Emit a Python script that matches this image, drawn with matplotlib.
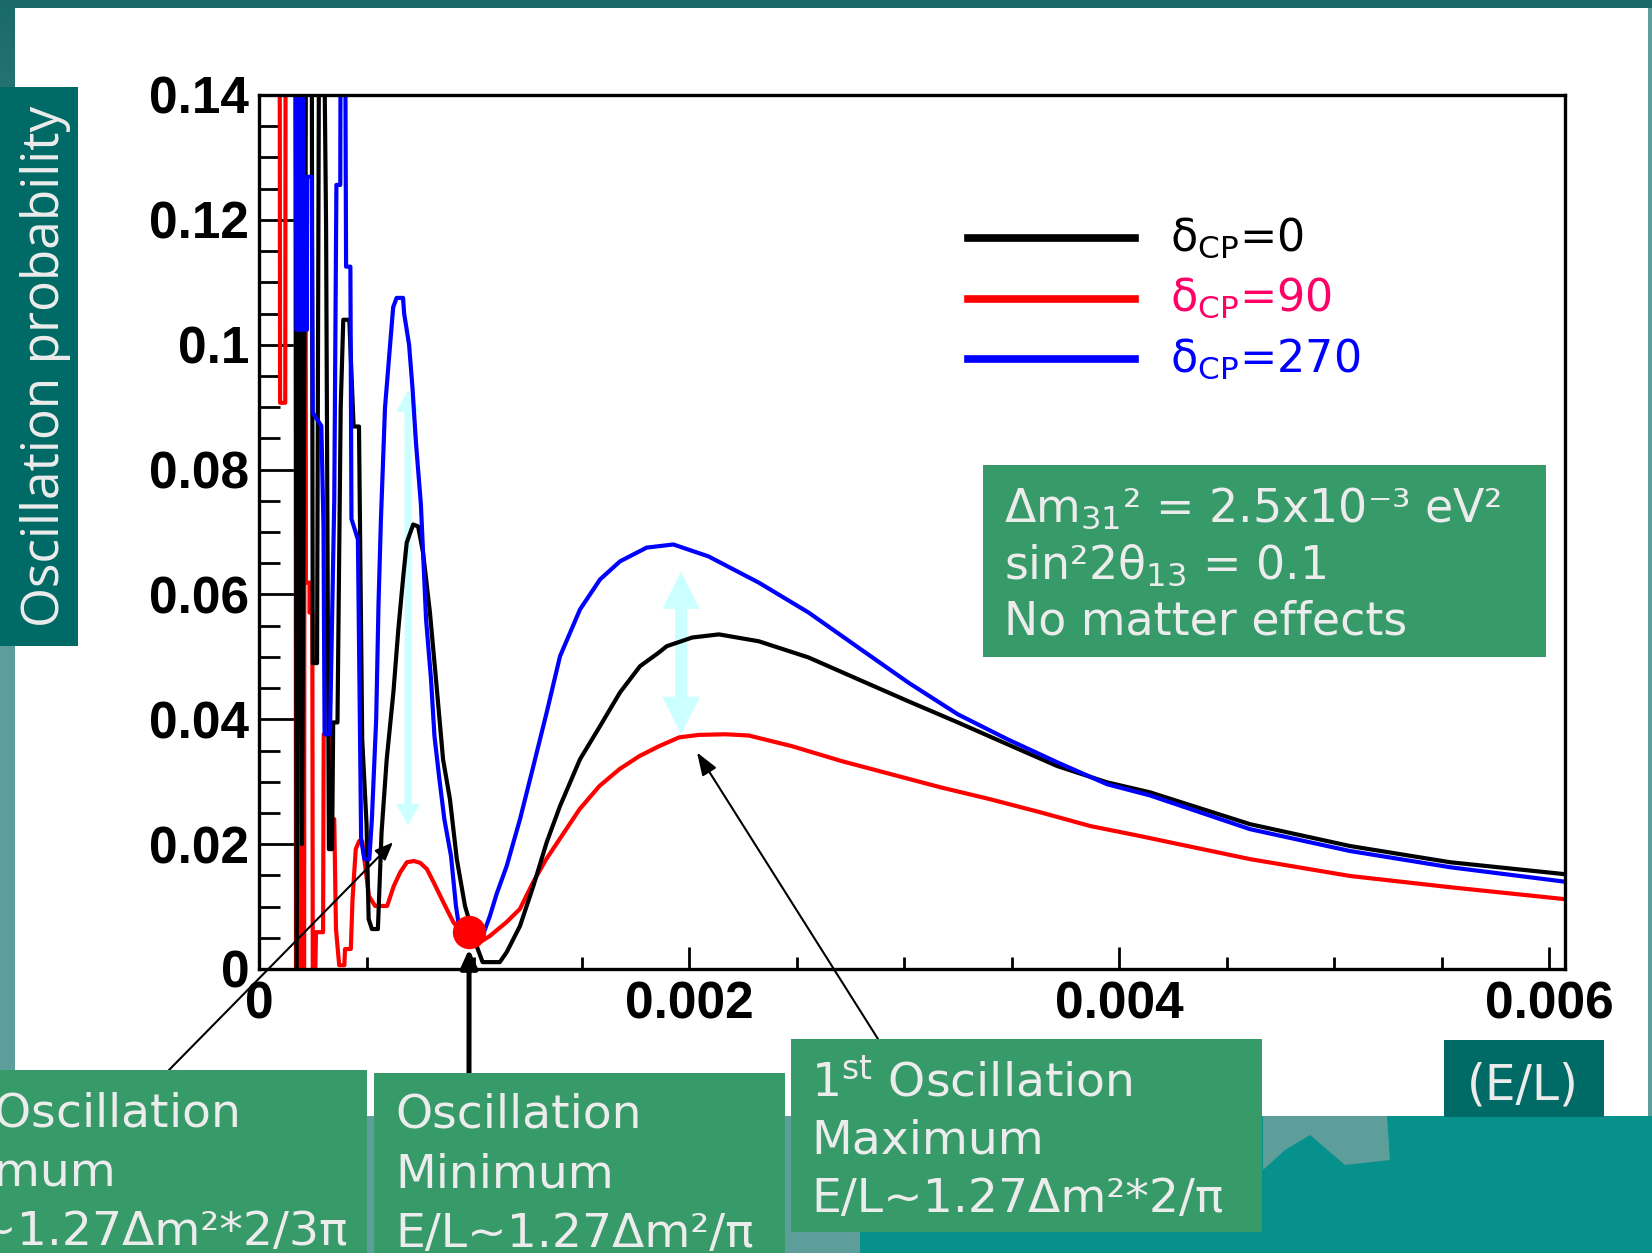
import matplotlib
matplotlib.use("Agg")
import matplotlib.pyplot as plt
from matplotlib.patches import Rectangle, Polygon, FancyArrowPatch, ArrowStyle
from matplotlib.lines import Line2D
from matplotlib.colors import LinearSegmentedColormap
from matplotlib.ticker import MultipleLocator
import numpy as np

plt.rcParams['mathtext.fontset'] = 'dejavusans'

# ---- values: x = E/L, y = oscillation probability ----
# (points at 0.16 are off the top of the frame, the plot clips them)
el_d0 = [0.000170, 0.000175, 0.000190, 0.000200, 0.000220, 0.000245, 0.000250, 0.000270,
         0.000280, 0.000300, 0.000312, 0.000325, 0.000340, 0.000345, 0.000365, 0.000380,
         0.000392, 0.000420, 0.000440, 0.000465, 0.000480, 0.000500, 0.000510, 0.000525,
         0.000553, 0.000570, 0.000594, 0.000625, 0.000648, 0.000671, 0.000687, 0.000717,
         0.000740, 0.000763, 0.000795, 0.000826, 0.000856, 0.000888, 0.000920, 0.000958,
         0.001012, 0.001040, 0.001120, 0.001152, 0.001214, 0.001276, 0.001338, 0.001400,
         0.001493, 0.001586, 0.001679, 0.001772, 0.001860, 0.001896, 0.002015, 0.002139,
         0.002324, 0.002556, 0.002787, 0.003019, 0.003250, 0.003481, 0.003713, 0.003944,
         0.004144, 0.004609, 0.005074, 0.005540, 0.006070]
p_d0 = [0.160, 0.000, 0.160, 0.020, 0.160, 0.160, 0.049, 0.049,
        0.160, 0.160, 0.119, 0.0192, 0.0192, 0.0395, 0.0395, 0.0900,
        0.1040, 0.1040, 0.0869, 0.0869, 0.0368, 0.0233, 0.0080, 0.0064,
        0.0064, 0.0219, 0.0336, 0.0443, 0.0544, 0.0629, 0.0683, 0.0712,
        0.0709, 0.0667, 0.0571, 0.0453, 0.0336, 0.0272, 0.0176, 0.0101,
        0.0037, 0.0011, 0.0011, 0.0027, 0.0069, 0.0133, 0.0203, 0.0261,
        0.0336, 0.0389, 0.0443, 0.0485, 0.0507, 0.0517, 0.0531, 0.0536,
        0.0525, 0.0499, 0.0464, 0.0429, 0.0395, 0.0360, 0.0325, 0.0299,
        0.0283, 0.0232, 0.0197, 0.0171, 0.0152]

el_d90 = [0.000096, 0.000098, 0.000122, 0.000124, 0.000170, 0.000172, 0.000178, 0.000180,
          0.000186, 0.000188, 0.000194, 0.000196, 0.000202, 0.000204, 0.000210, 0.000212,
          0.000216, 0.000218, 0.000235, 0.000235, 0.000248,
          0.000250, 0.000262, 0.000265, 0.000298, 0.000301, 0.000327, 0.000333, 0.000350,
          0.000358, 0.000373, 0.000397, 0.000400, 0.000427, 0.000435, 0.000450, 0.000466,
          0.000480, 0.000511, 0.000540, 0.000596, 0.000627, 0.000657, 0.000688, 0.000720,
          0.000750, 0.000781, 0.000812, 0.000843, 0.000873, 0.000904, 0.000940, 0.000990,
          0.001028, 0.001074, 0.001151, 0.001213, 0.001275, 0.001336, 0.001398, 0.001491,
          0.001583, 0.001676, 0.001769, 0.001861, 0.001954, 0.002046, 0.002170, 0.002278,
          0.002478, 0.002710, 0.002940, 0.003170, 0.003400, 0.003634, 0.003866, 0.004097,
          0.004609, 0.005074, 0.005540, 0.006070]
p_d90 = [0.160, 0.0907, 0.0907, 0.160, 0.160, 0.000, 0.000, 0.160,
         0.160, 0.000, 0.000, 0.160, 0.160, 0.000, 0.000, 0.160,
         0.160, 0.0619, 0.0619, 0.0571, 0.0571,
         0.000, 0.000, 0.0059, 0.0059, 0.0376, 0.0376, 0.0240, 0.0240,
         0.0064, 0.0006, 0.0006, 0.0032, 0.0032, 0.0112, 0.0192, 0.0205,
         0.0205, 0.0117, 0.0101, 0.0101, 0.0133, 0.0155, 0.0171, 0.0173,
         0.0170, 0.0160, 0.0139, 0.0117, 0.0096, 0.0075, 0.0058, 0.0048,
         0.0043, 0.0053, 0.0075, 0.0096, 0.0139, 0.0176, 0.0208, 0.0256,
         0.0293, 0.0320, 0.0341, 0.0357, 0.0371, 0.0375, 0.0376, 0.0374,
         0.0357, 0.0333, 0.0312, 0.0291, 0.0272, 0.0251, 0.0229, 0.0213,
         0.0176, 0.0149, 0.0131, 0.0112]

el_d270 = [0.000170, 0.000174, 0.000180, 0.000182, 0.000188, 0.000190, 0.000196, 0.000198,
           0.000204, 0.000206, 0.000223, 0.000223,
           0.000245, 0.000250, 0.000290, 0.000300, 0.000305, 0.000330, 0.000350, 0.000360,
           0.000378, 0.000380, 0.000400, 0.000405, 0.000425, 0.000430, 0.000460, 0.000475,
           0.000490, 0.000513, 0.000525, 0.000545, 0.000556, 0.000567, 0.000571, 0.000586,
           0.000609, 0.000624, 0.000640, 0.000670, 0.000675, 0.000698, 0.000714, 0.000730,
           0.000753, 0.000777, 0.000800, 0.000816, 0.000839, 0.000862, 0.000893, 0.000916,
           0.000932, 0.000975, 0.001020, 0.001040, 0.001074, 0.001105, 0.001152, 0.001214,
           0.001276, 0.001338, 0.001400, 0.001493, 0.001586, 0.001679, 0.001803, 0.001927,
           0.002090, 0.002324, 0.002556, 0.002787, 0.003019, 0.003250, 0.003481, 0.003713,
           0.003944, 0.004144, 0.004609, 0.005074, 0.005540, 0.006070]
p_d270 = [0.160, 0.1024, 0.1024, 0.160, 0.160, 0.1024, 0.1024, 0.160,
          0.160, 0.1024, 0.1024, 0.1269,
          0.1269, 0.0891, 0.0870, 0.0707, 0.0376, 0.0376, 0.0750, 0.1256,
          0.1256, 0.160, 0.160, 0.1125, 0.1125, 0.0721, 0.0688, 0.0208,
          0.0176, 0.0176, 0.0240, 0.0400, 0.0587, 0.0720, 0.0757, 0.0899,
          0.0997, 0.1060, 0.1075, 0.1075, 0.1050, 0.1000, 0.0930, 0.0843,
          0.0744, 0.0560, 0.0464, 0.0373, 0.0304, 0.0240, 0.0181, 0.0101,
          0.0064, 0.0040, 0.0045, 0.0053, 0.0085, 0.0120, 0.0165, 0.0240,
          0.0325, 0.0411, 0.0501, 0.0576, 0.0624, 0.0653, 0.0675, 0.0680,
          0.0661, 0.0619, 0.0571, 0.0515, 0.0459, 0.0408, 0.0368, 0.0331,
          0.0296, 0.0278, 0.0224, 0.0189, 0.0163, 0.0140]

# oscillation minimum marker and the two cyan "CP effect" double arrows
min_el, min_p = 0.000977, 0.0059
cp_arrows = [(0.000693, 0.0229, 0.0928), (0.001963, 0.0376, 0.0637)]

xticks = [0, 0.002, 0.004, 0.006]
xtick_labels = ['0', '0.002', '0.004', '0.006']
yticks = [0, 0.02, 0.04, 0.06, 0.08, 0.10, 0.12, 0.14]
ytick_labels = ['0', '0.02', '0.04', '0.06', '0.08', '0.1', '0.12', '0.14']

legend_labels = ['δ$_{\\mathrm{CP}}$=0', 'δ$_{\\mathrm{CP}}$=90', 'δ$_{\\mathrm{CP}}$=270']
legend_text_colors = ['black', '#ff0066', '#0000ff']
line_colors = ['black', '#ff0000', '#0000ff']

W, H = 1652, 1253
GREEN = '#379a69'
TEAL = '#006a66'
WHITE_TXT = '#ececec'

fig = plt.figure(figsize=(W / 100, H / 100), dpi=100)
fig.patch.set_facecolor('white')


def fx(x):
    return x / W


def fy(y):
    return 1 - y / H


def rect(x0, y0, x1, y1, color, z=2):
    fig.add_artist(Rectangle((fx(x0), fy(y1)), (x1 - x0) / W, (y1 - y0) / H,
                             transform=fig.transFigure, facecolor=color, lw=0, zorder=z))


# slide background
rect(0, 0, W, 8, '#1b6a69', 1)
rect(1648, 8, W, 1116, '#5d9e9b', 1)
rect(0, 1116, 860, H, '#5d9e9b', 1)
rect(860, 1116, W, H, '#06918c', 1)
fig.add_artist(Polygon([(fx(1263), fy(1116)), (fx(1387), fy(1116)), (fx(1390), fy(1160)),
                        (fx(1345), fy(1165)), (fx(1310), fy(1135)), (fx(1285), fy(1150)),
                        (fx(1263), fy(1170))], closed=True, transform=fig.transFigure,
                       facecolor='#5d9e9b', lw=0, zorder=1))
strip = fig.add_axes([0, fy(1116), 15 / W, (1116 - 8) / H])
strip.imshow(np.linspace(0, 1, 200).reshape(-1, 1), aspect='auto',
             cmap=LinearSegmentedColormap.from_list('s', ['#1c6b6b', '#5d9e9c', '#5d9e9c']))
strip.axis('off')

# main plot
ax = fig.add_axes([fx(259), fy(969), (1565 - 259) / W, (969 - 95) / H])
ax.set_xlim(0, 0.006074)
ax.set_ylim(0, 0.14)

ax.plot(el_d90, p_d90, color=line_colors[1], lw=3.0, zorder=2)
ax.plot(el_d0, p_d0, color=line_colors[0], lw=3.0, zorder=2.1)
ax.plot(el_d270, p_d270, color=line_colors[2], lw=3.0, zorder=2.2)

for x, y0, y1 in cp_arrows:
    ym = (y0 + y1) / 2
    big = (y1 - y0) > 0.05
    hl, hw, tw = (1.6, 1.7, 0.5) if big else (2.7, 2.7, 0.86)
    for tip in (y0, y1):
        ax.add_patch(FancyArrowPatch((x, ym), (x, tip),
                                     arrowstyle=ArrowStyle.Simple(head_length=hl, head_width=hw, tail_width=tw),
                                     mutation_scale=10, fc='#ccffff', ec='none', lw=0, zorder=1.5,
                                     shrinkA=0, shrinkB=0))

ax.plot([min_el], [min_p], 'o', ms=23, color='red', mec='red', zorder=6, clip_on=False)

for sp in ax.spines.values():
    sp.set_linewidth(2.4)
ax.set_xticks(xticks)
ax.set_xticklabels(xtick_labels)
ax.set_yticks(yticks)
ax.set_yticklabels(ytick_labels)
ax.xaxis.set_minor_locator(MultipleLocator(0.0005))
ax.yaxis.set_minor_locator(MultipleLocator(0.005))
ax.tick_params(which='both', direction='in', top=False, right=False, width=2)
ax.tick_params(axis='y', which='major', length=26, pad=7)
ax.tick_params(axis='y', which='minor', length=15)
ax.tick_params(axis='x', which='major', length=16, pad=8)
ax.tick_params(axis='x', which='minor', length=9)
for lab in ax.get_xticklabels() + ax.get_yticklabels():
    lab.set_fontfamily('Liberation Sans')
    lab.set_fontweight('bold')
    lab.set_fontsize(37)

# black pointer arrows from the boxes
ax.annotate('', xy=(0.000623, 0.0203), xytext=(169, H - 1070), textcoords='figure pixels',
            arrowprops=dict(arrowstyle='-|>,head_length=1.1,head_width=0.45', color='black',
                            lw=1.5, shrinkA=0, shrinkB=0), annotation_clip=False)
ax.annotate('', xy=(min_el, 0.0032), xytext=(469, H - 1073), textcoords='figure pixels',
            arrowprops=dict(arrowstyle='-|>,head_length=1.1,head_width=0.5', color='black',
                            lw=3.6, shrinkA=0, shrinkB=0), annotation_clip=False)
ax.annotate('', xy=(0.002037, 0.0347), xytext=(878, H - 1039), textcoords='figure pixels',
            arrowprops=dict(arrowstyle='-|>,head_length=1.4,head_width=0.5', color='black',
                            lw=1.5, shrinkA=0, shrinkB=0), annotation_clip=False)

# legend
for i, (lab, tc, lc) in enumerate(zip(legend_labels, legend_text_colors, line_colors)):
    ly = 238 + i * 60.5
    fig.add_artist(Line2D([fx(968), fx(1135)], [fy(ly), fy(ly)], color=lc, lw=5.5,
                          transform=fig.transFigure, zorder=5))
    fig.text(fx(1170), fy(ly + 12.5), lab, fontsize=32, color=tc, family='DejaVu Sans',
             va='baseline', zorder=5)

# parameter box
rect(983, 465, 1546, 657, GREEN, 5)
param_lines = ['Δm$_{31}$² = 2.5x10⁻³ eV²', 'sin²2θ$_{13}$ = 0.1', 'No matter effects']
for txt, by in zip(param_lines, [522, 579, 635]):
    fig.text(fx(1004), fy(by), txt, fontsize=33, color=WHITE_TXT, family='DejaVu Sans',
             va='baseline', zorder=6)

# y axis title box
rect(0, 87, 78, 646, TEAL, 2)
fig.text(fx(59), fy(366), 'Oscillation probability', rotation=90, rotation_mode='anchor',
         ha='center', va='baseline', fontsize=37, family='Open Sans', color=WHITE_TXT, zorder=3)

# x axis title box
rect(1444, 1040, 1604, 1117, TEAL, 2)
fig.text(fx(1523), fy(1100), '(E/L)', ha='center', va='baseline', fontsize=35,
         family='DejaVu Sans', color=WHITE_TXT, zorder=3)

# annotation boxes along the bottom (the slide crops the first one at the left edge)
rect(-10, 1070, 367, H + 10, GREEN, 2)
rect(374, 1073, 785, H + 10, GREEN, 2)
rect(791, 1039, 1262, 1232, GREEN, 2)

box1 = [('2$^{\\mathrm{nd}}$ Oscillation', 238, 1127), ('Maximum', 116, 1185),
        ('E/L~1.27Δm²*2/3π', 348, 1245)]
for txt, rx, by in box1:
    fig.text(fx(rx), fy(by), txt, ha='right', va='baseline', fontsize=34,
             family='DejaVu Sans', color=WHITE_TXT, zorder=3)

box2 = ['Oscillation', 'Minimum', 'E/L~1.27Δm²/π']
for txt, by in zip(box2, [1128, 1188, 1247]):
    fig.text(fx(395), fy(by), txt, va='baseline', fontsize=34,
             family='DejaVu Sans', color=WHITE_TXT, zorder=3)

box3 = ['1$^{\\mathrm{st}}$ Oscillation', 'Maximum', 'E/L~1.27Δm²*2/π']
for txt, by in zip(box3, [1097, 1154, 1212]):
    fig.text(fx(811), fy(by), txt, va='baseline', fontsize=34,
             family='DejaVu Sans', color=WHITE_TXT, zorder=3)

fig.savefig('out.png', dpi=100, facecolor='white')
